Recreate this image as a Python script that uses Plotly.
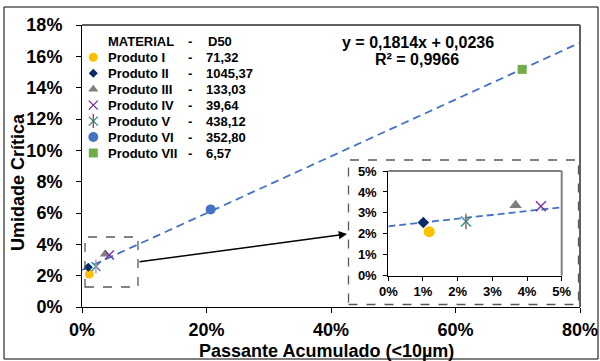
import plotly.graph_objects as go

# ---- data ----
produtos = ["Produto I", "Produto II", "Produto III", "Produto IV",
            "Produto V", "Produto VI", "Produto VII"]
d50 = ["71,32", "1045,37", "133,03", "39,64", "438,12", "352,80", "6,57"]
passante = [0.0118, 0.0101, 0.0367, 0.0440, 0.0224, 0.2067, 0.7070]   # fraction < 10 µm
umidade = [0.0210, 0.0254, 0.0336, 0.0332, 0.0259, 0.0623, 0.1517]    # critical moisture
slope = 0.1814
intercept = 0.0236
r2 = 0.9966

x_ticks = [0, 0.2, 0.4, 0.6, 0.8]
y_ticks = [0, 0.02, 0.04, 0.06, 0.08, 0.10, 0.12, 0.14, 0.16, 0.18]
zoom_ticks = [0, 0.01, 0.02, 0.03, 0.04, 0.05]

# ---- styling ----
FONT = "Liberation Sans, Arial, sans-serif"
symbols = ["circle", "diamond", "triangle-up", "x-thin-open", "x-thin-open", "circle", "square"]
colors = ["#FFC000", "#0B2A66", "#7F7F7F", "#7030A0", "#23908F", "#4472C4", "#70AD47"]
sizes_main = [9, 7, 9, 9, 9, 10, 9]
sizes_zoom = [11, 9, 11, 10, 10, 11, 10]
open_marker = [False, False, False, True, True, False, False]

W, H = 600, 361
L, R, T, B = 82, 20, 25, 54
pw, ph = W - L - R, H - T - B


def px(x):
    return (x - L) / pw


def py(y):
    return (H - B - y) / ph


fig = go.Figure()


def trend_trace(x0, x1, xa, ya, width, dash):
    xs = [x0, x1]
    ys = [slope * v + intercept for v in xs]
    return go.Scatter(x=xs, y=ys, mode="lines", xaxis=xa, yaxis=ya,
                      line=dict(color="#4472C4", width=width, dash=dash),
                      hoverinfo="skip", showlegend=False)


def point_traces(xa, ya, sizes, xs, ys):
    out = []
    for i in range(len(produtos)):
        if open_marker[i]:
            mk = dict(symbol=symbols[i], size=sizes[i], color=colors[i],
                      line=dict(color=colors[i], width=1.3))
        else:
            mk = dict(symbol=symbols[i], size=sizes[i], color=colors[i],
                      line=dict(width=0))
        out.append(go.Scatter(x=[xs[i]], y=[ys[i]], mode="markers", xaxis=xa, yaxis=ya,
                              marker=mk, name=produtos[i], showlegend=False,
                              cliponaxis=False))
        if i == 4:  # Excel-style star: add vertical stroke to the cross
            out.append(go.Scatter(x=[xs[i]], y=[ys[i]], mode="markers", xaxis=xa, yaxis=ya,
                                  marker=dict(symbol="line-ns-open", size=sizes[i] + 1,
                                              line=dict(color=colors[i], width=1.3)),
                                  showlegend=False, hoverinfo="skip", cliponaxis=False))
    return out


# main chart
fig.add_trace(trend_trace(0, x_ticks[-1], "x", "y", 1.8, "8px,5px"))
for t in point_traces("x", "y", sizes_main, passante, umidade):
    fig.add_trace(t)

# zoomed inset
fig.add_trace(trend_trace(0, zoom_ticks[-1], "x2", "y2", 1.8, "7px,4px"))
for t in point_traces("x2", "y2", sizes_zoom, passante, umidade):
    fig.add_trace(t)

# legend swatches on an overlay frame in paper units
leg_x = px(93.3)
row0, step = 57.3, 15.95
leg_y = [py(row0 + k * step) for k in range(len(produtos))]
for t in point_traces("x3", "y3", [9, 7, 9, 9, 9, 10, 9],
                      [leg_x] * len(produtos), leg_y):
    fig.add_trace(t)

tick_font = dict(family=FONT, size=18, color="black", weight="bold")
small_font = dict(family=FONT, size=13, color="black", weight="bold")

common = dict(showgrid=False, zeroline=False, automargin=False, tickformat=".0%",
              ticks="outside", tickcolor="black", showline=True, linecolor="black",
              linewidth=1)

fig.update_layout(
    template="none",
    width=W, height=H,
    margin=dict(l=L, r=R, t=T, b=B, pad=0, autoexpand=False),
    paper_bgcolor="white", plot_bgcolor="rgba(0,0,0,0)",
    showlegend=False,
    xaxis=dict(domain=[0, 1], range=[0, x_ticks[-1]], tickvals=x_ticks, ticklen=5,
               tickfont=tick_font, anchor="y", ticklabelstandoff=1, **common),
    yaxis=dict(domain=[0, 1], range=[0, y_ticks[-1]], tickvals=y_ticks, ticklen=5,
               tickfont=tick_font, anchor="x", ticklabelstandoff=10, **common),
    xaxis2=dict(domain=[px(388.3), px(561.7)], range=[0, zoom_ticks[-1]],
                tickvals=zoom_ticks, ticklen=4, tickfont=small_font, anchor="y2",
                ticklabelstandoff=0, **common),
    yaxis2=dict(domain=[py(275.7), py(171)], range=[0, zoom_ticks[-1]],
                tickvals=zoom_ticks, ticklen=4, tickfont=small_font, anchor="x2",
                ticklabelstandoff=4, **common),
    xaxis3=dict(domain=[0, 1], range=[0, 1], visible=False, anchor="y3", automargin=False),
    yaxis3=dict(domain=[0, 1], range=[0, 1], visible=False, anchor="x3", automargin=False),
)

shapes = [
    # outer chart frame
    dict(type="rect", xref="paper", yref="paper", x0=px(4), x1=px(598), y0=py(359), y1=py(7),
         line=dict(color="black", width=1), layer="below"),
    # plot-area frame (top / right)
    dict(type="line", xref="paper", yref="paper", x0=0, x1=1, y0=1, y1=1,
         line=dict(color="#606060", width=2)),
    dict(type="line", xref="paper", yref="paper", x0=1, x1=1, y0=0, y1=1,
         line=dict(color="#606060", width=2)),
    # inset frame (top / right)
    dict(type="line", xref="x2 domain", yref="y2 domain", x0=0, x1=1, y0=1, y1=1,
         line=dict(color="#808080", width=2)),
    dict(type="line", xref="x2 domain", yref="y2 domain", x0=1, x1=1, y0=0, y1=1,
         line=dict(color="#808080", width=2)),
    # dashed box around the inset
    dict(type="rect", xref="paper", yref="paper", x0=px(348.5), x1=px(578.5),
         y0=py(304.5), y1=py(160), line=dict(color="#595959", width=1.3, dash="dash")),
    # dashed box marking the zoomed region
    dict(type="rect", xref="paper", yref="paper", x0=px(85), x1=px(138),
         y0=py(287), y1=py(237), line=dict(color="#595959", width=1.3, dash="dash")),
]
fig.update_layout(shapes=shapes)

ann = []
# arrow from zoom region to inset
ann.append(dict(xref="paper", yref="paper", x=px(347), y=py(234), ax=138 - 347, ay=262 - 234,
                text="", showarrow=True, arrowhead=2, arrowsize=1.1, arrowwidth=1.5,
                arrowcolor="black"))
# axis titles
ann.append(dict(xref="paper", yref="paper", x=px(18), y=py(182), text="Umidade Crítica",
                textangle=-90, showarrow=False, xanchor="center", yanchor="middle",
                font=dict(family=FONT, size=18, color="black", weight="bold")))
ann.append(dict(xref="paper", yref="paper", x=px(326), y=py(351),
                text="Passante Acumulado (<10µm)", showarrow=False,
                xanchor="center", yanchor="middle",
                font=dict(family=FONT, size=18, color="black", weight="bold")))
# regression equation
eq_font = dict(family=FONT, size=16, color="black", weight="bold")
ann.append(dict(xref="paper", yref="paper", x=px(418), y=py(42),
                text=f"y = {slope:.4f}x + {intercept:.4f}".replace(".", ","),
                showarrow=False, xanchor="center", yanchor="middle", font=eq_font))
ann.append(dict(xref="paper", yref="paper", x=px(417), y=py(59.5),
                text=f"R² = {r2:.4f}".replace(".", ","),
                showarrow=False, xanchor="center", yanchor="middle", font=eq_font))

# legend table
leg_font = dict(family=FONT, size=13, color="black", weight="bold")
rows = [("MATERIAL", "D50", 206, 41.7)] + [
    (produtos[k], d50[k], 203.5, row0 + k * step) for k in range(len(produtos))]
for name, val, vx, ry in rows:
    ann.append(dict(xref="paper", yref="paper", x=px(106), y=py(ry), text=name,
                    showarrow=False, xanchor="left", yanchor="middle", font=leg_font))
    ann.append(dict(xref="paper", yref="paper", x=px(190), y=py(ry), text="-",
                    showarrow=False, xanchor="center", yanchor="middle", font=leg_font))
    ann.append(dict(xref="paper", yref="paper", x=px(vx), y=py(ry), text=val,
                    showarrow=False, xanchor="left", yanchor="middle", font=leg_font))

fig.update_layout(annotations=ann)

fig.write_html("out.html")
